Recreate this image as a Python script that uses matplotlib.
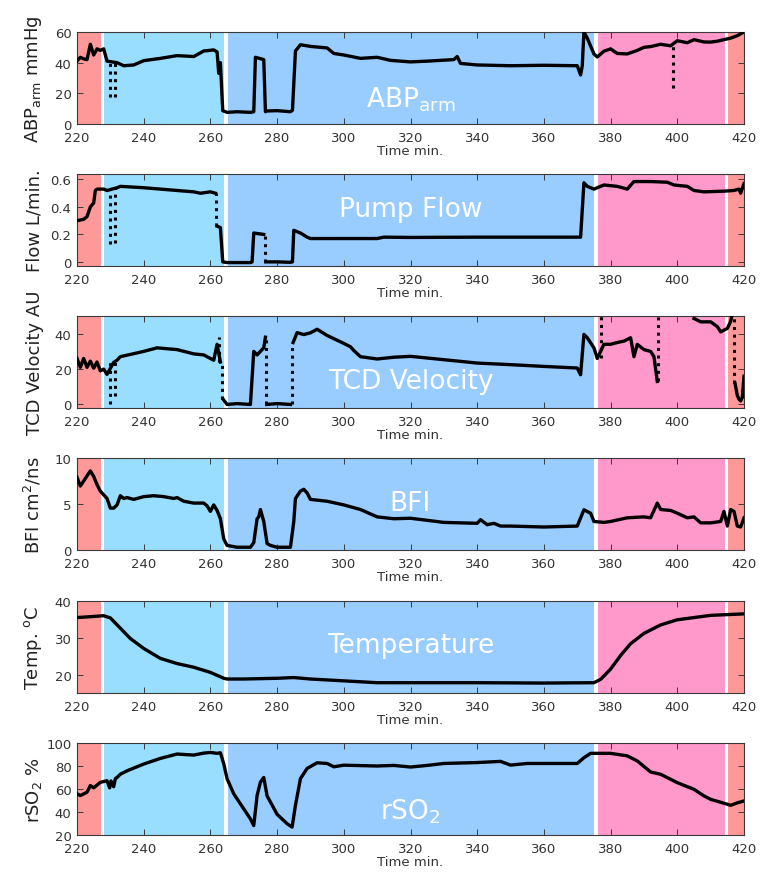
import numpy as np
import matplotlib
matplotlib.use("Agg")
import matplotlib.pyplot as plt

nan = np.nan

# shaded phases (start, end, colour)
phase_start = [220.0, 228.0, 265.0, 376.0, 415.0]
phase_end = [227.2, 264.2, 375.0, 414.2, 420.0]
phase_color = ["#FF9999", "#99DDFF", "#99CCFF", "#FF99CC", "#FF9999"]
phase_edges = [227.6, 264.6, 375.5, 414.6]

# ABP arm (mmHg)
abp_t = [220, 221, 222, 223, 224, 225, 226, 227, 228, 229, 232, 234, 237, 240, 245, 250, 255, 258,
         261, 262, 262.5, 263, 263.7, 265, 268, 272, 273, 273.5, 276, 276.5, 277, 280, 284, 284.6,
         285.5, 287, 290, 295, 297, 300, 305, 310, 314, 320, 325, 333, 334, 335, 340, 350, 360,
         370, 371, 371.5, 372, 373, 375, 376, 378, 380, 382, 385, 388, 390, 392, 395, 398, 400,
         403, 405, 408, 410, 412, 414, 416, 418, 420]
abp_v = [41, 43.5, 42.5, 42, 52, 45, 49, 48, 49, 41, 40, 38, 38.5, 41.3, 42.8, 44.6, 44, 47.6,
         48.3, 47, 33, 40, 8.7, 7.6, 8, 7.6, 8, 43.5, 42, 8, 8.5, 8.7, 8, 9,
         47.6, 51.7, 50.6, 49.6, 46, 45, 42.8, 43.5, 41.5, 40.5, 41, 42, 44, 39.5, 38.5, 38, 38.3,
         38, 32, 38, 60, 56, 45.7, 43.7, 47.5, 49, 46, 45.7, 48, 50, 50.5, 52, 51, 54.3,
         53, 55, 53.5, 53.4, 54, 55, 56, 57.6, 60]
abp_drop_t = [230, 231.5, 398.6]
abp_drop_lo = [17.6, 17.6, 23.5]
abp_drop_hi = [40, 40, 51]

# pump flow (L/min)
flow_t = [220, 222, 223, 224, 225, 225.5, 226, 228, 229, 232, 233, 240, 245, 250, 255, 257, 260,
          261.5, nan, 262, 263, 263.7, 265, 272, 272.5, 273, 276, nan, 276.6, 280, 284, 284.6,
          285, 287, 289, 290, 300, 310, 312, 320, 340, 355, 371, 372, 373, 375, 378, 382, 385,
          387, 392, 397, 399, 403, 405, 408, 414, 417, 418.5, 419, 420]
flow_v = [0.30, 0.31, 0.33, 0.40, 0.43, 0.52, 0.53, 0.53, 0.52, 0.54, 0.55, 0.54, 0.53, 0.52, 0.51,
          0.50, 0.51, 0.50, nan, 0.26, 0.25, 0.0, -0.005, -0.005, 0.0, 0.21, 0.20, nan, 0.0, 0.0,
          -0.003, 0.0, 0.23, 0.21, 0.18, 0.17, 0.17, 0.17, 0.18, 0.178, 0.18, 0.18, 0.18, 0.576,
          0.55, 0.53, 0.56, 0.55, 0.53, 0.585, 0.585, 0.58, 0.56, 0.55, 0.52, 0.51, 0.515, 0.52,
          0.53, 0.50, 0.57]
flow_drop_t = [230, 231.5, 261.8, 276.4]
flow_drop_lo = [0.13, 0.14, 0.26, 0.0]
flow_drop_hi = [0.53, 0.54, 0.50, 0.20]

# TCD velocity (AU)
tcd_t = [220, 221, 222, 223, 224, 225, 226, 227, 228, 229, 231, 232, 233, 240, 244, 250, 255, 258,
         261, 262, 263, nan, 263.8, 265, 268, 272, 273, 274, 276, 276.5, nan, 276.9, 280, 284,
         nan, 284.8, 286, 288, 290, 292, 295, 300, 302, 303, 305, 310, 315, 320, 330, 340, 350,
         360, 370, 371, 372, 373, 375, 376, 378, 380, 382, 384, 386, 387, 388, 390, 392, 393,
         394, nan, 405, 407, 410, 412, 413, 414, 415, 416, 416.6, nan, 417.3, 418, 418.5, 419,
         419.5, 420]
tcd_v = [26, 21, 26, 21, 24.5, 20.5, 24, 19, 20, 17, 23.8, 25, 27, 30, 32, 31, 28.6, 28, 25,
         34, 24, nan, 3, 0, 0.5, 0, 30, 28, 32, 38, nan, 0, 0.5, 0, nan, 35, 40.6, 39.5, 40.5,
         42.5, 39, 34.5, 32.6, 30.5, 27, 25.7, 26.7, 27.2, 25.3, 23.4, 22.5, 21.5, 20.6, 16.8,
         39.6, 37.7, 32, 26, 34, 34, 35, 35.8, 37.7, 27, 34, 31, 30, 27, 13, nan, 48.6, 46.7,
         46.7, 44, 41, 42, 43, 47, 52, nan, 12, 5, 3, 2, 4, 16]
tcd_drop_t = [230, 231.5, 262.5, 263.6, 276.7, 284.6, 377, 394.2, 417]
tcd_drop_lo = [0, 5, 24, 3, 0, 0, 26, 13, 12]
tcd_drop_hi = [24, 25, 38, 24, 38, 35, 50, 50, 50]

# BFI (cm^2/ns)
bfi_t = [220, 221, 222, 224, 225, 226, 227, 228, 229, 230, 231, 232, 233, 234, 235, 237, 238, 240,
         243, 246, 249, 250, 252, 255, 258, 259, 260, 261, 262, 263, 264, 265, 268, 272, 273, 274,
         274.5, 275, 276, 277, 278, 280, 284, 285, 285.5, 287, 288, 289, 290, 295, 300, 305, 310,
         315, 320, 330, 340, 341, 343, 345, 347, 350, 360, 370, 372, 374, 375, 378, 380, 385, 390,
         392, 394, 395, 398, 400, 403, 405, 407, 410, 413, 414, 415, 416, 417, 418, 419, 420]
bfi_v = [7.9, 6.95, 7.5, 8.6, 8.0, 7.1, 6.4, 6.0, 5.6, 4.55, 4.55, 4.9, 5.9, 5.6, 5.7, 5.5, 5.6,
         5.8, 5.9, 5.8, 5.6, 5.7, 5.3, 5.1, 5.1, 4.8, 4.2, 4.9, 4.3, 3.4, 1.2, 0.5, 0.3, 0.3, 0.8,
         3.4, 3.6, 4.4, 3.1, 0.7, 0.5, 0.3, 0.3, 3.1, 5.6, 6.4, 6.6, 6.2, 5.5, 5.3, 4.9, 4.4, 3.6,
         3.4, 3.45, 3.0, 2.9, 3.3, 2.75, 2.9, 2.6, 2.6, 2.5, 2.6, 4.37, 4.0, 3.1, 3.0, 3.1, 3.5,
         3.6, 3.5, 5.1, 4.4, 4.3, 4.0, 3.5, 3.6, 2.95, 2.95, 3.1, 4.2, 2.6, 4.4, 4.2, 2.6, 2.5, 3.5]

# temperature (deg C)
temp_t = [220, 225, 228, 230, 233, 236, 240, 245, 250, 255, 260, 264, 265, 270, 280, 285, 290,
          300, 310, 320, 340, 360, 375, 377, 380, 383, 386, 390, 395, 400, 405, 410, 415, 420]
temp_v = [35.5, 35.8, 36.0, 35.4, 32.6, 29.8, 27.1, 24.4, 23.0, 22.0, 20.6, 19.0, 18.8, 18.8,
          19.0, 19.2, 18.8, 18.3, 17.8, 17.8, 17.8, 17.7, 17.8, 18.7, 21.5, 25.2, 28.4, 31.2,
          33.5, 34.9, 35.5, 36.1, 36.3, 36.5]

# rSO2 (%)
rso2_t = [220, 221, 223, 224, 225, 227, 229, 229.8, 230.2, 231, 231.5, 232, 233, 235, 240, 245,
          250, 255, 258, 260, 262, 263, 264, 265, 267, 270, 272, 273, 274, 275, 276, 277, 280,
          283, 284.5, 285.5, 287, 289, 292, 295, 297, 300, 310, 315, 320, 325, 330, 340, 347, 350,
          355, 360, 370, 372, 374, 380, 385, 388, 392, 395, 400, 405, 408, 410, 414, 416, 418, 420]
rso2_v = [55.8, 54.3, 57.2, 63, 61, 65.8, 67.2, 61, 67, 62, 69, 70, 72.9, 75.8, 81.7, 86.6,
          90.4, 89.5, 91.2, 91.8, 91, 91.5, 82, 68.9, 55.8, 42.7, 34, 28.2, 54.3, 66, 70, 54, 38,
          29.8, 26.9, 45.8, 69, 77.9, 82.8, 82.2, 79.3, 80.7, 80, 80.5, 79.1, 80.5, 82.2, 83, 84,
          80.8, 82.2, 82.2, 82.2, 87.2, 91, 91, 88.8, 84.4, 74.8, 72.8, 65.5, 59.7, 54, 51, 47.6,
          45.8, 48, 49.6]

panels = [
    dict(t=abp_t, v=abp_v, ylim=(0, 60), yticks=[0, 20, 40, 60], ytl=None,
         ylabel=r"ABP$_{\mathrm{arm}}$ mmHg", name=r"ABP$_{\mathrm{arm}}$", ny=0.27,
         drops=(abp_drop_t, abp_drop_lo, abp_drop_hi)),
    dict(t=flow_t, v=flow_v, ylim=(-0.03, 0.64), yticks=[0, 0.2, 0.4, 0.6],
         ytl=["0", "0.2", "0.4", "0.6"], ylabel="Flow L/min.", name="Pump Flow", ny=0.62,
         drops=(flow_drop_t, flow_drop_lo, flow_drop_hi)),
    dict(t=tcd_t, v=tcd_v, ylim=(-2, 50), yticks=[0, 20, 40], ytl=None,
         ylabel="TCD Velocity AU", name="TCD Velocity", ny=0.29,
         drops=(tcd_drop_t, tcd_drop_lo, tcd_drop_hi)),
    dict(t=bfi_t, v=bfi_v, ylim=(0, 10), yticks=[0, 5, 10], ytl=None,
         ylabel=r"BFI cm$^2$/ns", name="BFI", ny=0.51, drops=None),
    dict(t=temp_t, v=temp_v, ylim=(15, 40), yticks=[20, 30, 40], ytl=None,
         ylabel=r"Temp. $^{\mathrm{o}}$C", name="Temperature", ny=0.52, drops=None),
    dict(t=rso2_t, v=rso2_v, ylim=(20, 100), yticks=[20, 40, 60, 80, 100], ytl=None,
         ylabel=r"rSO$_2$ %", name=r"rSO$_2$", ny=0.26, drops=None),
]

plt.rcParams["font.family"] = "DejaVu Sans"
plt.rcParams["mathtext.fontset"] = "dejavusans"

fig = plt.figure(figsize=(7.68, 8.78), dpi=100)
edge = "#3a3a3a"

bottoms_px = [125, 267, 409, 551, 694, 836]
for p, bpx in zip(panels, bottoms_px):
    ax = fig.add_axes([77 / 768, 1 - bpx / 878, 667 / 768, 92 / 878])
    for s, e, c in zip(phase_start, phase_end, phase_color):
        ax.axvspan(s, e, color=c, lw=0, zorder=0)
    for x in phase_edges:
        ax.axvline(x, color="white", lw=2.2, zorder=1)
    ax.plot(p["t"], p["v"], color="black", lw=2.4, zorder=3, solid_joinstyle="round")
    if p["drops"] is not None:
        dt, lo, hi = p["drops"]
        ax.vlines(dt, lo, hi, colors="black", linestyles=(0, (1, 1.5)), lw=2.2, zorder=3)
    ax.set_xlim(220, 420)
    ax.set_ylim(*p["ylim"])
    ax.set_xticks(np.arange(220, 421, 20))
    ax.set_yticks(p["yticks"])
    if p["ytl"]:
        ax.set_yticklabels(p["ytl"])
    ax.tick_params(direction="in", top=True, right=True, length=4, width=0.7,
                   color=edge, labelcolor="#333333", labelsize=9.5)
    ax.tick_params(axis="x", pad=5)
    ax.tick_params(axis="y", pad=4)
    for sp in ax.spines.values():
        sp.set_color(edge)
        sp.set_linewidth(0.8)
    ax.set_xlabel("Time min.", fontsize=9.5, color="#333333", labelpad=0)
    ax.set_ylabel(p["ylabel"], fontsize=13, color="#222222")
    ax.yaxis.set_label_coords(-0.05, 0.5)
    ax.text(0.5, p["ny"], p["name"], transform=ax.transAxes, ha="center", va="center",
            color="white", fontsize=19, zorder=4)

fig.savefig("out.png", dpi=100)
